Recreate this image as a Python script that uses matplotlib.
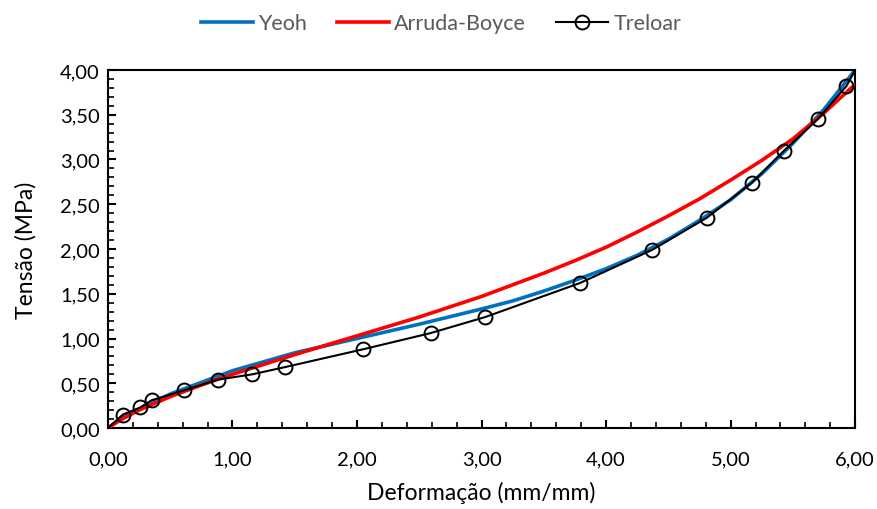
import numpy as np
import matplotlib
matplotlib.use("Agg")
import matplotlib.pyplot as plt
from matplotlib.ticker import MultipleLocator, FuncFormatter

# Treloar data
treloar_x = [0.0, 0.12, 0.26, 0.35, 0.61, 0.88, 1.16, 1.42, 2.05, 2.59, 3.03,
             3.79, 4.37, 4.81, 5.17, 5.43, 5.70, 5.93, 6.0]
treloar_y = [0.0, 0.15, 0.23, 0.31, 0.42, 0.54, 0.60, 0.68, 0.88, 1.06, 1.24,
             1.62, 1.99, 2.35, 2.74, 3.10, 3.45, 3.82, 4.0]

# Yeoh fit
yeoh_x = [0.0, 0.1, 0.25, 0.5, 0.75, 1.0, 1.5, 2.0, 2.5, 3.0, 3.25, 3.5, 3.75,
          4.0, 4.25, 4.5, 4.75, 5.0, 5.25, 5.5, 5.75, 6.0]
yeoh_y = [0.0, 0.10, 0.21, 0.38, 0.51, 0.64, 0.84, 1.00, 1.16, 1.33, 1.42,
          1.53, 1.65, 1.78, 1.93, 2.11, 2.32, 2.55, 2.84, 3.18, 3.56, 4.0]

# Arruda-Boyce fit
ab_x = [0.0, 0.1, 0.25, 0.5, 0.75, 1.0, 1.5, 2.0, 2.5, 3.0, 3.5, 3.75, 4.0,
        4.25, 4.5, 4.75, 5.0, 5.25, 5.5, 5.75, 6.0]
ab_y = [0.0, 0.09, 0.20, 0.35, 0.48, 0.60, 0.82, 1.03, 1.24, 1.47, 1.73, 1.87,
        2.02, 2.19, 2.37, 2.56, 2.77, 2.99, 3.23, 3.52, 3.84]

plt.rcParams['font.family'] = ['Lato', 'DejaVu Sans']

fig = plt.figure(figsize=(8.77, 5.10), dpi=100)
ax = fig.add_axes([0.1231, 0.1588, 0.852, 0.702])

ax.plot(yeoh_x, yeoh_y, color='#0070C0', lw=2.6, label='Yeoh', zorder=2)
ax.plot(ab_x, ab_y, color='#FF0000', lw=2.6, label='Arruda-Boyce', zorder=3)
ax.plot(treloar_x, treloar_y, color='black', lw=1.5, marker='o', ms=10,
        mfc='none', mec='black', mew=1.4, markevery=list(range(1, len(treloar_x) - 1)),
        label='Treloar', zorder=4)

ax.set_xlim(0, 6)
ax.set_ylim(0, 4)
ax.xaxis.set_major_locator(MultipleLocator(1))
ax.xaxis.set_minor_locator(MultipleLocator(0.2))
ax.yaxis.set_major_locator(MultipleLocator(0.5))
ax.yaxis.set_minor_locator(MultipleLocator(0.1))
fmt = FuncFormatter(lambda v, p: f"{v:.2f}".replace('.', ','))
ax.xaxis.set_major_formatter(fmt)
ax.yaxis.set_major_formatter(fmt)

ax.tick_params(which='major', direction='in', length=6, width=1.5, labelsize=14.5)
ax.tick_params(axis='x', which='major', pad=16)
ax.tick_params(axis='y', which='major', pad=6)
ax.tick_params(which='minor', direction='in', length=4, width=1.2)
for s in ax.spines.values():
    s.set_linewidth(1.5)

ax.set_xlabel('Deformação (mm/mm)', fontsize=16.5, labelpad=10)
ax.set_ylabel('Tensão (MPa)', fontsize=16.5, labelpad=17)

leg = fig.legend(loc='upper center', bbox_to_anchor=(0.503, 1.01), ncol=3, frameon=False,
                 fontsize=15.5, handlelength=2.4, columnspacing=1.4, handletextpad=0.25)
for t in leg.get_texts():
    t.set_color('#595959')

fig.savefig('out.png', dpi=100)
